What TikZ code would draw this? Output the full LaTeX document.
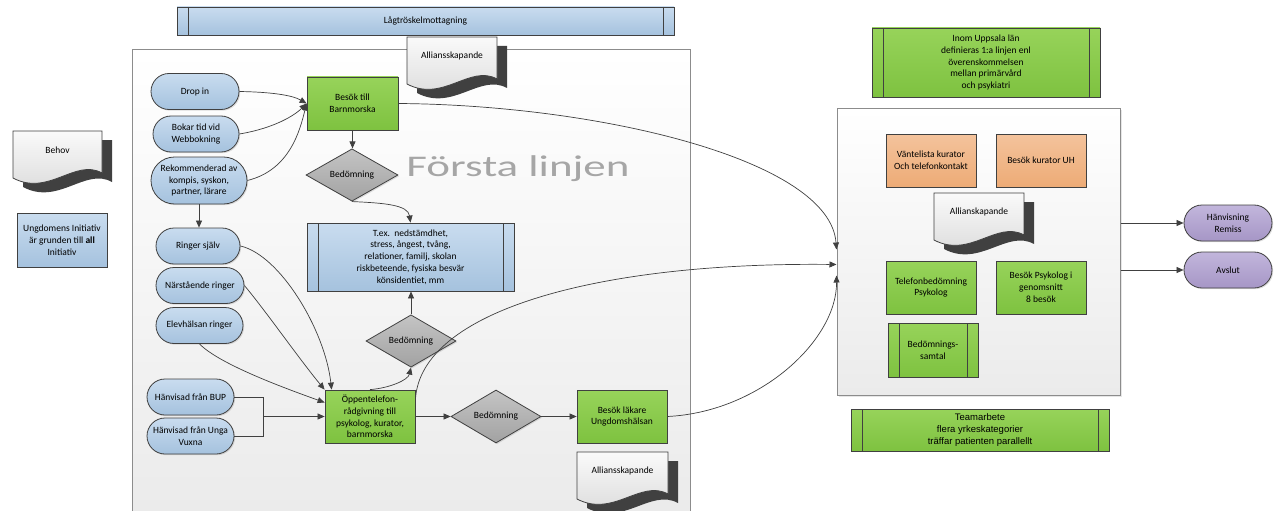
\documentclass[tikz,border=0pt]{standalone}
\usepackage{graphicx}
\usepackage{fontspec}
\setmainfont{Carlito}
\newfontfamily\arialfont{Liberation Sans}
\usetikzlibrary{shapes.geometric,shapes.misc,arrows.meta,shadows,calc}

\definecolor{edge}{HTML}{404040}
\definecolor{blueT}{HTML}{C9DCEF}
\definecolor{blueB}{HTML}{A5C2DE}
\definecolor{greenT}{HTML}{97D35A}
\definecolor{greenB}{HTML}{7EC240}
\definecolor{orT}{HTML}{F4C39C}
\definecolor{orB}{HTML}{EDAB76}
\definecolor{puT}{HTML}{C2B6DC}
\definecolor{puB}{HTML}{A696C6}
\definecolor{grT}{HTML}{C4C4C4}
\definecolor{grB}{HTML}{A2A2A2}
\definecolor{docT}{HTML}{FAFAFA}
\definecolor{docB}{HTML}{D9D9D9}
\definecolor{docsh}{HTML}{404040}
\definecolor{contT}{HTML}{FFFFFF}
\definecolor{contB}{HTML}{EBEBEB}
\definecolor{contline}{HTML}{8C8C8C}
\definecolor{bigtext}{HTML}{A6A6A6}

\newcommand{\docpath}{(0,0) -- (\dw,0) -- (\dw,42) .. controls ({0.7*\dw},27) and ({0.4*\dw},66) .. (0,47) -- cycle}
\newcommand{\docnode}[5]{%
  \def\dw{#4}%
  \begin{scope}[shift={(#2,#3)}]
    \fill[docsh,shift={(10,9)}] \docpath;
    \shade[top color=docT, bottom color=docB, draw=edge, line width=0.8pt] \docpath;
    \node[anchor=center, inner sep=0pt] (#1) at ({#4/2},19) {#5};
  \end{scope}}

\begin{document}
\begin{tikzpicture}[x=1pt, y=-1pt,
  font=\fontsize{9.5}{11.8}\selectfont,
  base/.style={draw=edge, line width=0.8pt, align=center, inner sep=1pt,
    drop shadow={shadow xshift=1.2pt, shadow yshift=-1.2pt, opacity=0.25}},
  stadium/.style={base, rounded rectangle, top color=blueT, bottom color=blueB,
    minimum height=36pt, minimum width=90pt},
  purplestad/.style={stadium, top color=puT, bottom color=puB},
  greenbox/.style={base, rectangle, top color=greenT, bottom color=greenB,
    minimum width=90pt, minimum height=53pt},
  orangebox/.style={greenbox, top color=orT, bottom color=orB},
  bluebox/.style={greenbox, top color=blueT, bottom color=blueB},
  decision/.style={base, diamond, top color=grT, bottom color=grB,
    minimum width=92pt, minimum height=52pt, inner sep=0pt},
  subproc/.style={path picture={\draw[edge, line width=0.8pt]
    ([xshift=11pt]path picture bounding box.north west) -- ([xshift=11pt]path picture bounding box.south west)
    ([xshift=-11pt]path picture bounding box.north east) -- ([xshift=-11pt]path picture bounding box.south east);}},
  container/.style={draw=contline, line width=1pt, top color=contT, bottom color=contB,
    drop shadow={shadow xshift=1.5pt, shadow yshift=-1.5pt, opacity=0.2}},
  conn/.style={draw=edge, line width=0.7pt, -{Triangle[length=7pt,width=6pt]}},
  plain/.style={draw=edge, line width=0.7pt}
]
\useasboundingbox (0,0) rectangle (1280,511);

% containers
\shade[top color=contT, bottom color=contB] (132,50) rectangle (690,511);
\draw[contline, line width=1pt] (132,511) -- (132,50) -- (690,50) -- (690,511);
\node[container, rectangle, minimum width=283pt, minimum height=287pt] (rc) at (978.5,251.5) {};

% header bars
\node[bluebox, subproc, minimum width=497pt, minimum height=28pt] (lag) at (425.5,21) {Lågtröskelmottagning};
\node[greenbox, subproc, minimum width=228pt, minimum height=69pt] (inom) at (986,62.5)
  {Inom Uppsala län\\definieras 1:a linjen enl\\överenskommelsen\\mellan primärvård\\och psykiatri};

% big title
\node[anchor=base, text=bigtext, font=\fontsize{30}{36}\selectfont, inner sep=0pt] (forsta) at (518,176) {\scalebox{1.5}[1]{Första linjen}};

% left side
\docnode{behov}{13}{131}{89}{Behov}
\node[bluebox, minimum width=90pt, minimum height=54pt] (ungd) at (62,240)
  {Ungdomens Initiativ\\är grunden till \textbf{all}\\Initiativ};

% documents
\docnode{all1}{407}{37}{90}{Alliansskapande}
\docnode{all2}{577}{452}{91}{Alliansskapande}

% entry stadiums
\node[stadium] (dropin) at (195,91.5) {Drop in};
\node[stadium, minimum width=88pt] (bokar) at (196,134) {Bokar tid vid\\Webbokning};
\node[stadium, minimum width=98pt, minimum height=47pt] (rek) at (199,180.5) {Rekommenderad av\\kompis, syskon,\\partner, lärare};
\node[stadium, minimum width=86pt] (ringer) at (198,246) {Ringer själv};
\node[stadium] (narst) at (200,285.5) {Närstående ringer};
\node[stadium, minimum width=89pt] (elev) at (199.5,325.5) {Elevhälsan ringer};
\node[stadium, minimum width=89pt] (bup) at (190.5,397) {Hänvisad från BUP};
\node[stadium, minimum width=89pt] (unga) at (190.5,436) {Hänvisad från Unga\\Vuxna};

% process
\node[greenbox, minimum width=91pt] (besok) at (352.5,103.5) {Besök till\\Barnmorska};
\node[decision] (d1) at (352,175) {Bedömning};
\node[bluebox, subproc, minimum width=207pt, minimum height=68pt] (tex) at (410.5,257)
  {T.ex.~~nedstämdhet,\\stress, ångest, tvång,\\relationer, familj, skolan\\riskbeteende, fysiska besvär\\könsidentiet, mm};
\node[decision, minimum width=90pt] (d2) at (411,341) {Bedömning};
\node[greenbox] (oppen) at (370,416.5) {Öppentelefon-\\rådgivning till\\psykolog, kurator,\\barnmorska};
\node[decision, minimum width=90pt, minimum height=53pt] (d3) at (496,416.5) {Bedömning};
\node[greenbox] (lak) at (622,416.5) {Besök läkare\\Ungdomshälsan};

% right container content
\node[orangebox] (vant) at (931,160.5) {Väntelista kurator\\Och telefonkontakt};
\node[orangebox] (kuruh) at (1041,160.5) {Besök kurator UH};
\docnode{all3}{934}{193}{90}{Allianskapande}
\node[greenbox] (tel) at (931,287.5) {Telefonbedömning\\Psykolog};
\node[greenbox] (psyk) at (1041,287.5) {Besök Psykolog i\\genomsnitt\\8 besök};
\node[greenbox, subproc, minimum height=54pt] (bsamt) at (933,350) {Bedömnings-\\samtal};
\node[greenbox, subproc, minimum width=258pt, minimum height=42pt, font=\arialfont\fontsize{9.5}{12.3}\selectfont] (team) at (980,430)
  {Teamarbete\\flera yrkeskategorier\\träffar patienten parallellt};

% exits
\node[purplestad] (hanv) at (1228,223) {Hänvisning\\Remiss};
\node[purplestad] (avslut) at (1228,270) {Avslut};

% connectors
\draw[conn] (dropin.east) .. controls (270,92) and (292,95) .. (besok.west);
\draw[conn] (bokar.east) .. controls (275,128) and (295,115) .. (besok.west);
\draw[conn] (rek.east) .. controls (290,170) and (300,130) .. (besok.west);
\draw[conn] (rek.south) -- (rek.south |- ringer.north);
\draw[conn] (besok.south) -- (besok.south |- d1.north);
\draw[conn] (d1.south) .. controls (385,203) and (408,205) .. (tex.north);
\draw[conn] (ringer.east) .. controls (280,255) and (325,330) .. ($(oppen.north west)+(7,0)$);
\draw[conn] (narst.east) .. controls (265,310) and (300,360) .. (oppen.north west);
\draw[conn] (elev.south) .. controls (220,365) and (290,390) .. ($(oppen.west)+(0,-14)$);
\coordinate (j) at (263,416.5);
\draw[plain] (bup.east) -| (j);
\draw[plain] (unga.east) -| (j);
\draw[conn] (j) -- (oppen.west);
\draw[conn] (oppen.north) .. controls (390,388) and (408,380) .. (d2.south);
\draw[conn] (d2.north) -- (d2.north |- tex.south);
\draw[conn] (oppen.east) -- (d3.west);
\draw[conn] (d3.east) -- (lak.west);
\draw[conn] (besok.east) .. controls (600,105) and (830,160) .. ($(rc.west)+(0,-2)$);
\draw[conn] (oppen.20) .. controls (420,310) and (600,262) .. ($(rc.west)+(0,13)$);
\draw[conn] (lak.east) .. controls (760,412) and (837,340) .. ($(rc.west)+(0,24)$);
\draw[conn] (rc.east |- hanv.west) -- (hanv.west);
\draw[conn] (rc.east |- avslut.west) -- (avslut.west);
\end{tikzpicture}
\end{document}
